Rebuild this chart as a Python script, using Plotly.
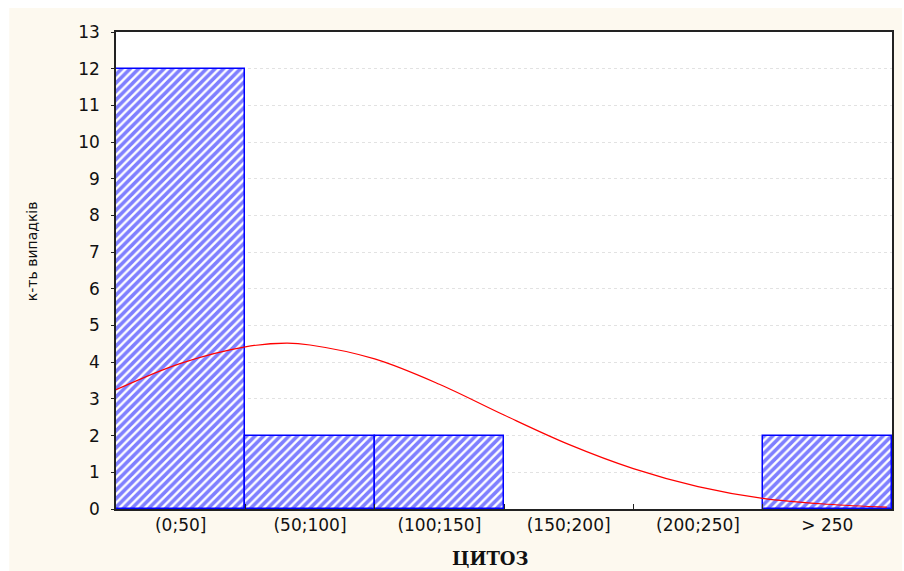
import plotly.graph_objects as go

# Histogram of cytosis values with the expected normal curve
bin_labels = ["(0;50]", "(50;100]", "(100;150]", "(150;200]", "(200;250]", "> 250"]
bin_centers = [25, 75, 125, 175, 225, 275]
bin_width = 50
counts = [12, 2, 2, 0, 0, 2]

# Expected-normal curve, sampled along the value axis
curve_x = [0, 25, 50, 66, 75, 100, 125, 150, 175, 200, 225, 250, 275, 298]
curve_y = [3.25, 3.97, 4.42, 4.52, 4.47, 4.09, 3.40, 2.56, 1.76, 1.10, 0.61, 0.29, 0.13, 0.05]

y_ticks = list(range(0, 14))

# empty bins get no outline
outline_widths = [1.5 if c > 0 else 0 for c in counts]

fig = go.Figure()

fig.add_trace(go.Bar(
    x=bin_centers,
    y=counts,
    width=[bin_width] * len(counts),
    marker=dict(
        color="white",
        line=dict(color="#0000ff", width=outline_widths),
        pattern=dict(shape="/", fgcolor="#0000ff", bgcolor="white",
                     size=6, solidity=0.6, fillmode="overlay"),
    ),
    hoverinfo="skip",
    showlegend=False,
))

fig.add_trace(go.Scatter(
    x=curve_x,
    y=curve_y,
    mode="lines",
    line=dict(color="#ff0000", width=1.2, shape="spline"),
    hoverinfo="skip",
    showlegend=False,
))

fig.update_layout(
    width=904,
    height=571,
    paper_bgcolor="white",
    plot_bgcolor="white",
    margin=dict(l=116, r=10, t=32, b=62),
    bargap=0,
    font=dict(family="DejaVu Sans, sans-serif", size=16, color="#111"),
    shapes=[
        # cream panel behind the whole chart
        dict(type="rect", xref="paper", yref="paper", layer="below",
             x0=-107 / 778, x1=1 + 10 / 778, y0=-62 / 477, y1=1 + 24 / 477,
             fillcolor="#fdf9ef", line=dict(width=0)),
        # white plotting area
        dict(type="rect", xref="paper", yref="paper", layer="below",
             x0=0, x1=1, y0=0, y1=1, fillcolor="white", line=dict(width=0)),
    ],
    annotations=[
        dict(text="ЦИТОЗ", xref="paper", yref="paper", x=(491 - 116) / 778,
             y=-(558 - 509) / 477, showarrow=False, xanchor="center", yanchor="middle",
             font=dict(family="DejaVu Serif, serif", size=18,
                       color="#111", weight="bold")),
        dict(text="к-ть випадків", xref="paper", yref="paper", x=-(116 - 32) / 778,
             y=(509 - 251) / 477, showarrow=False, textangle=-90,
             xanchor="center", yanchor="middle",
             font=dict(size=14, color="#111")),
    ],
)

fig.update_xaxes(
    range=[0, 300],
    tickmode="array",
    tickvals=bin_centers,
    ticktext=bin_labels,
    ticks="",
    showgrid=False,
    zeroline=False,
    showline=True,
    linecolor="#222",
    linewidth=1.5,
    mirror=True,
    minor=dict(tickvals=[50, 100, 150, 200, 250], ticks="inside", ticklen=5,
               tickcolor="#222", showgrid=False),
    tickfont=dict(size=17),
    fixedrange=True,
)

fig.update_yaxes(
    range=[0, 13],
    tickmode="array",
    tickvals=y_ticks,
    ticks="outside",
    ticklen=3,
    tickcolor="#222",
    showgrid=True,
    gridcolor="#e2e2e2",
    griddash="dot",
    gridwidth=1,
    zeroline=False,
    showline=True,
    linecolor="#222",
    linewidth=1.5,
    mirror=True,
    tickfont=dict(size=17),
    ticklabelstandoff=8,
    fixedrange=True,
)

fig.write_html("out.html")
